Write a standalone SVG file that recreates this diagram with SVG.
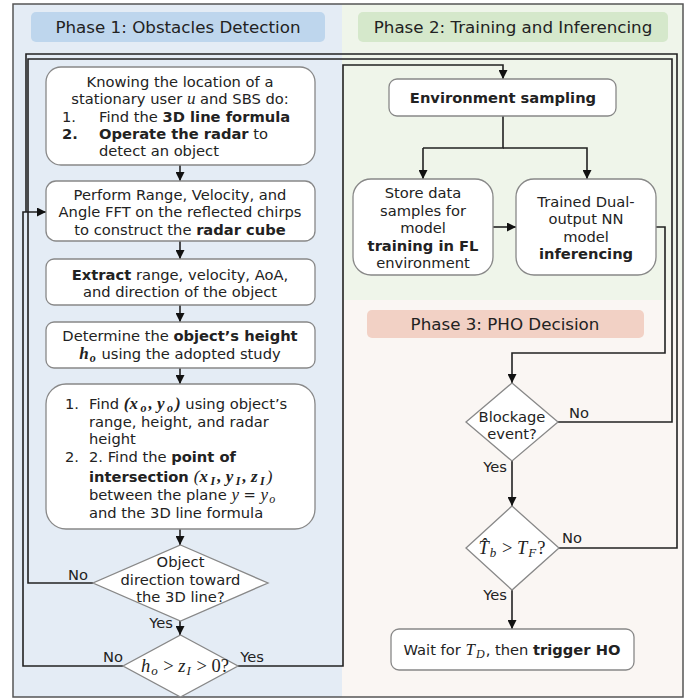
<svg xmlns="http://www.w3.org/2000/svg" width="699" height="698" viewBox="0 0 699 698">
<defs>
<marker id="ah" viewBox="0 0 10 10" refX="10" refY="5" markerWidth="9" markerHeight="9" markerUnits="userSpaceOnUse" orient="auto">
<path d="M0,0 L10,5 L0,10 z" fill="#111"/>
</marker>
<style>
.t{font-family:"DejaVu Sans",Verdana,sans-serif;font-size:14.7px;fill:#222}
.h{font-family:"DejaVu Sans",Verdana,sans-serif;font-size:16.7px;fill:#222}
.m{font-family:"Liberation Serif","Times New Roman",serif;font-style:italic;font-size:17px}
.mm{font-family:"Liberation Serif","Times New Roman",serif;font-style:italic;font-size:18.5px;fill:#222}
.b{font-weight:bold}
.s{font-size:12px}
.s2{font-size:13px}
.n{font-style:normal}
.box{fill:#fff;stroke:#888;stroke-width:1.3}
.c{fill:none;stroke:#222;stroke-width:1.6}
.ca{fill:none;stroke:#222;stroke-width:1.6;marker-end:url(#ah)}
.g{fill:none;stroke:#555;stroke-width:1.5}
</style>
</defs>
<!-- panels -->
<rect x="13" y="4" width="329" height="693" fill="#e4ecf5"/>
<rect x="342" y="4" width="341" height="296" fill="#eff5ea"/>
<rect x="342" y="300" width="341" height="397" fill="#faf6f3"/>
<rect x="13" y="4" width="670" height="693" class="g"/>
<g id="header1"><rect x="31" y="12" width="294" height="30" rx="5" fill="#bed6ed"/><text class="h" x="178" y="33" text-anchor="middle">Phase 1: Obstacles Detection</text></g>
<g id="header2"><rect x="358" y="12" width="310" height="30" rx="5" fill="#d5e8cb"/><text class="h" x="513" y="33" text-anchor="middle">Phase 2: Training and Inferencing</text></g>
<g id="header3"><rect x="367" y="310" width="277" height="28" rx="5" fill="#f2d1c5"/><text class="h" x="505" y="330" text-anchor="middle">Phase 3: PHO Decision</text></g>

<g id="connectors">
<path class="ca" d="M180,165 V181"/>
<path class="ca" d="M180,241 V259"/>
<path class="ca" d="M180,305 V322"/>
<path class="ca" d="M180,368 V384"/>
<path class="ca" d="M180,529 V545"/>
<path class="ca" d="M180,621 V635"/>
<path class="c" d="M93,583 H28 V59 H672 V422 H558"/>
<path class="c" d="M559,548 H677 V54 H26 V212"/>
<path class="ca" d="M123,666 H23 V212 H46"/>
<path class="ca" d="M238,666 H343 V65 H503 V79"/>
<path class="c" d="M503,116 V148 H423"/>
<path class="ca" d="M423,148 V179"/>
<path class="ca" d="M503,148 H587 V179"/>
<path class="ca" d="M493,227 H516"/>
<path class="ca" d="M656,227 H665 V353 H512 V383"/>
<path class="ca" d="M512,461 V506"/>
<path class="ca" d="M512,590 V629"/>
</g>

<g id="n1">
<rect class="box" x="46" y="67" width="269" height="98" rx="15"/>
<text class="t" x="180" y="87" text-anchor="middle">Knowing the location of a</text>
<text class="t" x="180" y="104" text-anchor="middle">stationary user <tspan class="m">u</tspan> and SBS do:</text>
<text class="t" x="62" y="122">1.</text>
<text class="t" x="99" y="122">Find the <tspan class="b">3D line formula</tspan></text>
<text class="t b" x="62" y="139">2.</text>
<text class="t" x="99" y="139"><tspan class="b">Operate the radar</tspan> to</text>
<text class="t" x="99" y="156">detect an object</text>
</g>
<g id="n2">
<rect class="box" x="46" y="181" width="269" height="60" rx="10"/>
<text class="t" x="180" y="200" text-anchor="middle">Perform Range, Velocity, and</text>
<text class="t" x="180" y="217" text-anchor="middle">Angle FFT on the reflected chirps</text>
<text class="t" x="180" y="235" text-anchor="middle">to construct the <tspan class="b">radar cube</tspan></text>
</g>
<g id="n3">
<rect class="box" x="46" y="259" width="269" height="46" rx="8"/>
<text class="t" x="180" y="280" text-anchor="middle"><tspan class="b">Extract</tspan> range, velocity, AoA,</text>
<text class="t" x="180" y="297" text-anchor="middle">and direction of the object</text>
</g>
<g id="n4">
<rect class="box" x="46" y="322" width="269" height="46" rx="8"/>
<text class="t" x="180" y="341" text-anchor="middle">Determine the <tspan class="b">object’s height</tspan></text>
<text class="t" x="180" y="359" text-anchor="middle"><tspan class="m b">h</tspan><tspan class="m b s" dy="3" dx="1">o</tspan><tspan dy="-3" dx="1"> using the adopted study</tspan></text>
</g>
<g id="n5">
<rect class="box" x="46" y="384" width="269" height="145" rx="20"/>
<text class="t" x="65" y="409">1.</text>
<text class="t" x="89" y="409">Find <tspan class="m b">(x</tspan><tspan class="m b s" dy="3" dx="2.5">o</tspan><tspan class="m b" dy="-3" dx="2">, y</tspan><tspan class="m b s" dy="3" dx="2.5">o</tspan><tspan class="m b" dy="-3" dx="2">)</tspan><tspan> using object’s</tspan></text>
<text class="t" x="89" y="427">range, height, and radar</text>
<text class="t" x="89" y="444">height</text>
<text class="t" x="65" y="462">2.</text>
<text class="t" x="89" y="462">2. Find the <tspan class="b">point of</tspan></text>
<text class="t" x="89" y="482"><tspan class="b">intersection </tspan><tspan class="m">(</tspan><tspan class="m b">x</tspan><tspan class="m b s" dy="3" dx="2.5">I</tspan><tspan class="m b" dy="-3" dx="2">, y</tspan><tspan class="m b s" dy="3" dx="2.5">I</tspan><tspan class="m b" dy="-3" dx="2">, z</tspan><tspan class="m b s" dy="3" dx="2.5">I</tspan><tspan class="m" dy="-3" dx="2">)</tspan></text>
<text class="t" x="89" y="500">between the plane <tspan class="m">y</tspan><tspan> = </tspan><tspan class="m">y</tspan><tspan class="m s" dy="3" dx="1">o</tspan></text>
<text class="t" x="89" y="518">and the 3D line formula</text>
</g>
<g id="d1">
<polygon class="box" points="180.5,545 268,583 180.5,621 93,583"/>
<text class="t" x="180.5" y="567" text-anchor="middle">Object</text>
<text class="t" x="180.5" y="585" text-anchor="middle">direction toward</text>
<text class="t" x="180.5" y="602" text-anchor="middle">the 3D line?</text>
</g>
<g id="d2">
<polygon class="box" points="180.5,635 238,666 180.5,697 123,666"/>
<text class="mm" x="185" y="672" text-anchor="middle">h<tspan class="s2" dy="3" dx="1">o</tspan><tspan class="n" dy="-3" dx="1"> &gt; </tspan>z<tspan class="s2" dy="3" dx="1">I</tspan><tspan class="n" dy="-3" dx="1"> &gt; 0?</tspan></text>
</g>
<g id="n6">
<rect class="box" x="389" y="79" width="227" height="37" rx="8"/>
<text class="t b" x="503" y="103" text-anchor="middle">Environment sampling</text>
</g>
<g id="n7">
<rect class="box" x="353" y="179" width="140" height="96" rx="18"/>
<text class="t" x="423" y="198" text-anchor="middle">Store data</text>
<text class="t" x="423" y="216" text-anchor="middle">samples for</text>
<text class="t" x="423" y="233" text-anchor="middle">model</text>
<text class="t b" x="423" y="251" text-anchor="middle">training in FL</text>
<text class="t" x="423" y="268" text-anchor="middle">environment</text>
</g>
<g id="n8">
<rect class="box" x="516" y="179" width="140" height="96" rx="18"/>
<text class="t" x="586" y="207" text-anchor="middle">Trained Dual-</text>
<text class="t" x="586" y="224" text-anchor="middle">output NN</text>
<text class="t" x="586" y="242" text-anchor="middle">model</text>
<text class="t b" x="586" y="259" text-anchor="middle">inferencing</text>
</g>
<g id="d3">
<polygon class="box" points="512,383 558,422 512,461 466,422"/>
<text class="t" x="512" y="422" text-anchor="middle">Blockage</text>
<text class="t" x="512" y="439" text-anchor="middle">event?</text>
</g>
<g id="d4">
<polygon class="box" points="512,506 559,548 512,590 466,548"/>
<text class="mm" x="512" y="554" text-anchor="middle">T̂<tspan class="s2" dy="3" dx="1">b</tspan><tspan class="n" dy="-3" dx="1"> &gt; </tspan>T<tspan class="s2" dy="3" dx="1">F</tspan><tspan class="n" dy="-3" dx="1">?</tspan></text>
</g>
<g id="n9">
<rect class="box" x="391" y="629" width="243" height="41" rx="8"/>
<text class="t" x="512" y="655" text-anchor="middle">Wait for <tspan class="m">T</tspan><tspan class="m s" dy="3" dx="1">D</tspan><tspan dy="-3" dx="1">, then </tspan><tspan class="b">trigger HO</tspan></text>
</g>
<g id="labels">
<text class="t" x="78" y="580" text-anchor="middle">No</text>
<text class="t" x="161" y="628" text-anchor="middle">Yes</text>
<text class="t" x="113" y="662" text-anchor="middle">No</text>
<text class="t" x="252" y="662" text-anchor="middle">Yes</text>
<text class="t" x="579" y="418" text-anchor="middle">No</text>
<text class="t" x="495" y="472" text-anchor="middle">Yes</text>
<text class="t" x="572" y="543" text-anchor="middle">No</text>
<text class="t" x="495" y="600" text-anchor="middle">Yes</text>
</g>
</svg>
